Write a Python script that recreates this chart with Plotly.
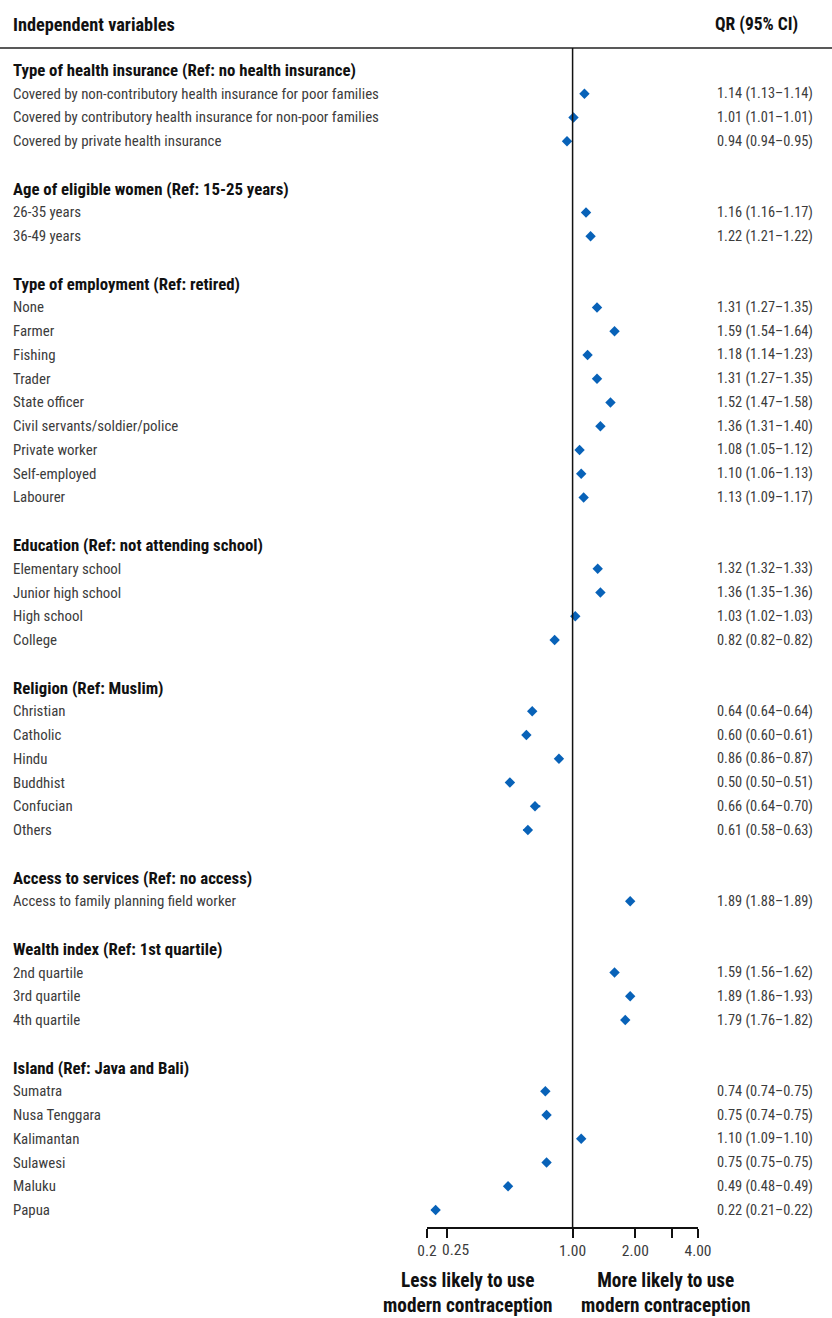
import math
import plotly.graph_objects as go

# ---- data -------------------------------------------------------------
group_titles = [
    "Type of health insurance (Ref: no health insurance)",
    "Age of eligible women (Ref: 15-25 years)",
    "Type of employment (Ref: retired)",
    "Education (Ref: not attending school)",
    "Religion (Ref: Muslim)",
    "Access to services (Ref: no access)",
    "Wealth index (Ref: 1st quartile)",
    "Island (Ref: Java and Bali)",
]

item_labels = [
    "Covered by non-contributory health insurance for poor families",
    "Covered by contributory health insurance for non-poor families",
    "Covered by private health insurance",
    "26-35 years", "36-49 years",
    "None", "Farmer", "Fishing", "Trader", "State officer",
    "Civil servants/soldier/police", "Private worker", "Self-employed", "Labourer",
    "Elementary school", "Junior high school", "High school", "College",
    "Christian", "Catholic", "Hindu", "Buddhist", "Confucian", "Others",
    "Access to family planning field worker",
    "2nd quartile", "3rd quartile", "4th quartile",
    "Sumatra", "Nusa Tenggara", "Kalimantan", "Sulawesi", "Maluku", "Papua",
]
item_group = [0, 0, 0,
              1, 1,
              2, 2, 2, 2, 2, 2, 2, 2, 2,
              3, 3, 3, 3,
              4, 4, 4, 4, 4, 4,
              5,
              6, 6, 6,
              7, 7, 7, 7, 7, 7]
qr = [1.14, 1.01, 0.94,
      1.16, 1.22,
      1.31, 1.59, 1.18, 1.31, 1.52, 1.36, 1.08, 1.10, 1.13,
      1.32, 1.36, 1.03, 0.82,
      0.64, 0.60, 0.86, 0.50, 0.66, 0.61,
      1.89,
      1.59, 1.89, 1.79,
      0.74, 0.75, 1.10, 0.75, 0.49, 0.22]
ci_low = [1.13, 1.01, 0.94,
          1.16, 1.21,
          1.27, 1.54, 1.14, 1.27, 1.47, 1.31, 1.05, 1.06, 1.09,
          1.32, 1.35, 1.02, 0.82,
          0.64, 0.60, 0.86, 0.50, 0.64, 0.58,
          1.88,
          1.56, 1.86, 1.76,
          0.74, 0.74, 1.09, 0.75, 0.48, 0.21]
ci_high = [1.14, 1.01, 0.95,
           1.17, 1.22,
           1.35, 1.64, 1.23, 1.35, 1.58, 1.40, 1.12, 1.13, 1.17,
           1.33, 1.36, 1.03, 0.82,
           0.64, 0.61, 0.87, 0.51, 0.70, 0.63,
           1.89,
           1.62, 1.93, 1.82,
           0.75, 0.75, 1.10, 0.75, 0.49, 0.22]

tick_values = [0.2, 0.25, 1.0, 2.0, 3.0, 4.0]
tick_labels = ["0.2", "0.25", "1.00", "2.00", "", "4.00"]
# labels set beside (not centred on) their tick, so neighbours don't collide
offset_ticks = {"0.25"}

# ---- layout constants --------------------------------------------------
W, H = 832, 1318
FONT = "Liberation Sans Narrow, Roboto Condensed, DejaVu Sans Condensed, Arial Narrow, sans-serif"
BLUE = "#0862b8"
GREY = "#3c3c3c"
INK = "#111111"
ROW0_PX, ROW_STEP = 70, 23.75          # pixel centre of first row, row pitch
TOP_PX, AXIS_PX = 48, 1227             # header rule and x-axis line
X_LEFT_PX, X_RIGHT_PX = 427, 698       # x-axis extent (0.2 .. 4)
TICK_FONT = dict(family=FONT, size=15.5, color=GREY)


def px_to_row(p):
    return (p - ROW0_PX) / ROW_STEP


# row numbers: group header, its items, then one blank row between groups
header_rows = []
row_of_item = {}
row = 0
for g in range(len(group_titles)):
    header_rows.append(row)
    row += 1
    for k, gi in enumerate(item_group):
        if gi == g:
            row_of_item[k] = row
            row += 1
    row += 1
item_rows = [row_of_item[k] for k in range(len(item_labels))]

fig = go.Figure()

fig.add_trace(go.Scatter(
    x=qr,
    y=item_rows,
    mode="markers",
    marker=dict(symbol="diamond", size=8, color=BLUE),
    error_x=dict(
        type="data",
        symmetric=False,
        array=[h - v for h, v in zip(ci_high, qr)],
        arrayminus=[v - l for v, l in zip(qr, ci_low)],
        color=BLUE,
        thickness=2,
        width=0,
    ),
    cliponaxis=False,
    hoverinfo="skip",
    showlegend=False,
))

annotations = []
# column headers
annotations.append(dict(x=11 / W, y=1 - 25 / H, xref="paper", yref="paper",
                        text="<b>Independent variables</b>", showarrow=False,
                        xanchor="left", yanchor="middle",
                        font=dict(family=FONT, size=18.3, color=INK)))
annotations.append(dict(x=800 / W, y=1 - 25 / H, xref="paper", yref="paper",
                        text="<b>QR (95% CI)</b>", showarrow=False,
                        xanchor="right", yanchor="middle",
                        font=dict(family=FONT, size=17.5, color=INK)))

for title, r in zip(group_titles, header_rows):
    annotations.append(dict(x=11 / W, y=r, xref="paper", yref="y",
                            text=f"<b>{title}</b>", showarrow=False,
                            xanchor="left", yanchor="middle",
                            font=dict(family=FONT, size=16.8, color=INK)))

for lab, r, v, lo, hi in zip(item_labels, item_rows, qr, ci_low, ci_high):
    annotations.append(dict(x=11 / W, y=r, xref="paper", yref="y",
                            text=lab, showarrow=False,
                            xanchor="left", yanchor="middle",
                            font=dict(family=FONT, size=14.9, color=GREY)))
    annotations.append(dict(x=815 / W, y=r, xref="paper", yref="y",
                            text=f"{v:.2f} ({lo:.2f}\u2013{hi:.2f})", showarrow=False,
                            xanchor="right", yanchor="middle",
                            font=dict(family=FONT, size=14.4, color=GREY)))

# tick labels drawn just right of their tick
axis_ticktext = []
for val, txt in zip(tick_values, tick_labels):
    if txt in offset_ticks:
        axis_ticktext.append("")
        annotations.append(dict(x=math.log10(val), y=1 - 1250 / H,
                                xref="x", yref="paper", text=txt,
                                showarrow=False, xanchor="left", yanchor="middle",
                                xshift=-7, font=TICK_FONT))
    else:
        axis_ticktext.append(txt)

# direction captions under the axis
annotations.append(dict(x=468 / W, y=1 - 1293 / H, xref="paper", yref="paper",
                        text="<b>Less likely to use<br>modern contraception</b>",
                        showarrow=False, xanchor="center", yanchor="middle",
                        font=dict(family=FONT, size=19.3, color=INK)))
annotations.append(dict(x=666 / W, y=1 - 1293 / H, xref="paper", yref="paper",
                        text="<b>More likely to use<br>modern contraception</b>",
                        showarrow=False, xanchor="center", yanchor="middle",
                        font=dict(family=FONT, size=19.3, color=INK)))

shapes = [
    # rule under the column headers
    dict(type="line", xref="paper", yref="paper", x0=0, x1=1,
         y0=1 - TOP_PX / H, y1=1 - TOP_PX / H,
         line=dict(color="#222222", width=1.5)),
    # line of no effect
    dict(type="line", xref="x", yref="paper", x0=1, x1=1,
         y0=1 - AXIS_PX / H, y1=1 - TOP_PX / H,
         line=dict(color=INK, width=1.5)),
]

fig.update_layout(
    width=W, height=H, autosize=False,
    margin=dict(l=0, r=0, t=0, b=0, pad=0),
    paper_bgcolor="white", plot_bgcolor="white",
    font=dict(family=FONT, color=GREY),
    annotations=annotations,
    shapes=shapes,
    xaxis=dict(
        type="log",
        domain=[X_LEFT_PX / W, X_RIGHT_PX / W],
        range=[math.log10(0.2), math.log10(4.0)],
        tickvals=tick_values,
        ticktext=axis_ticktext,
        tickangle=0,
        ticks="outside", ticklen=9, tickwidth=1.5, tickcolor=INK,
        showline=True, linecolor=INK, linewidth=1.5,
        showgrid=False, zeroline=False,
        tickfont=TICK_FONT,
        anchor="y",
        automargin=False,
    ),
    yaxis=dict(
        domain=[1 - AXIS_PX / H, 1 - TOP_PX / H],
        range=[px_to_row(AXIS_PX), px_to_row(TOP_PX)],
        showgrid=False, zeroline=False, showline=False,
        showticklabels=False, ticks="",
        automargin=False,
    ),
)

fig.write_html(
    "out.html",
    config={"responsive": False, "displayModeBar": False},
    post_script="document.body.style.margin='0';document.body.style.overflow='hidden';",
)
